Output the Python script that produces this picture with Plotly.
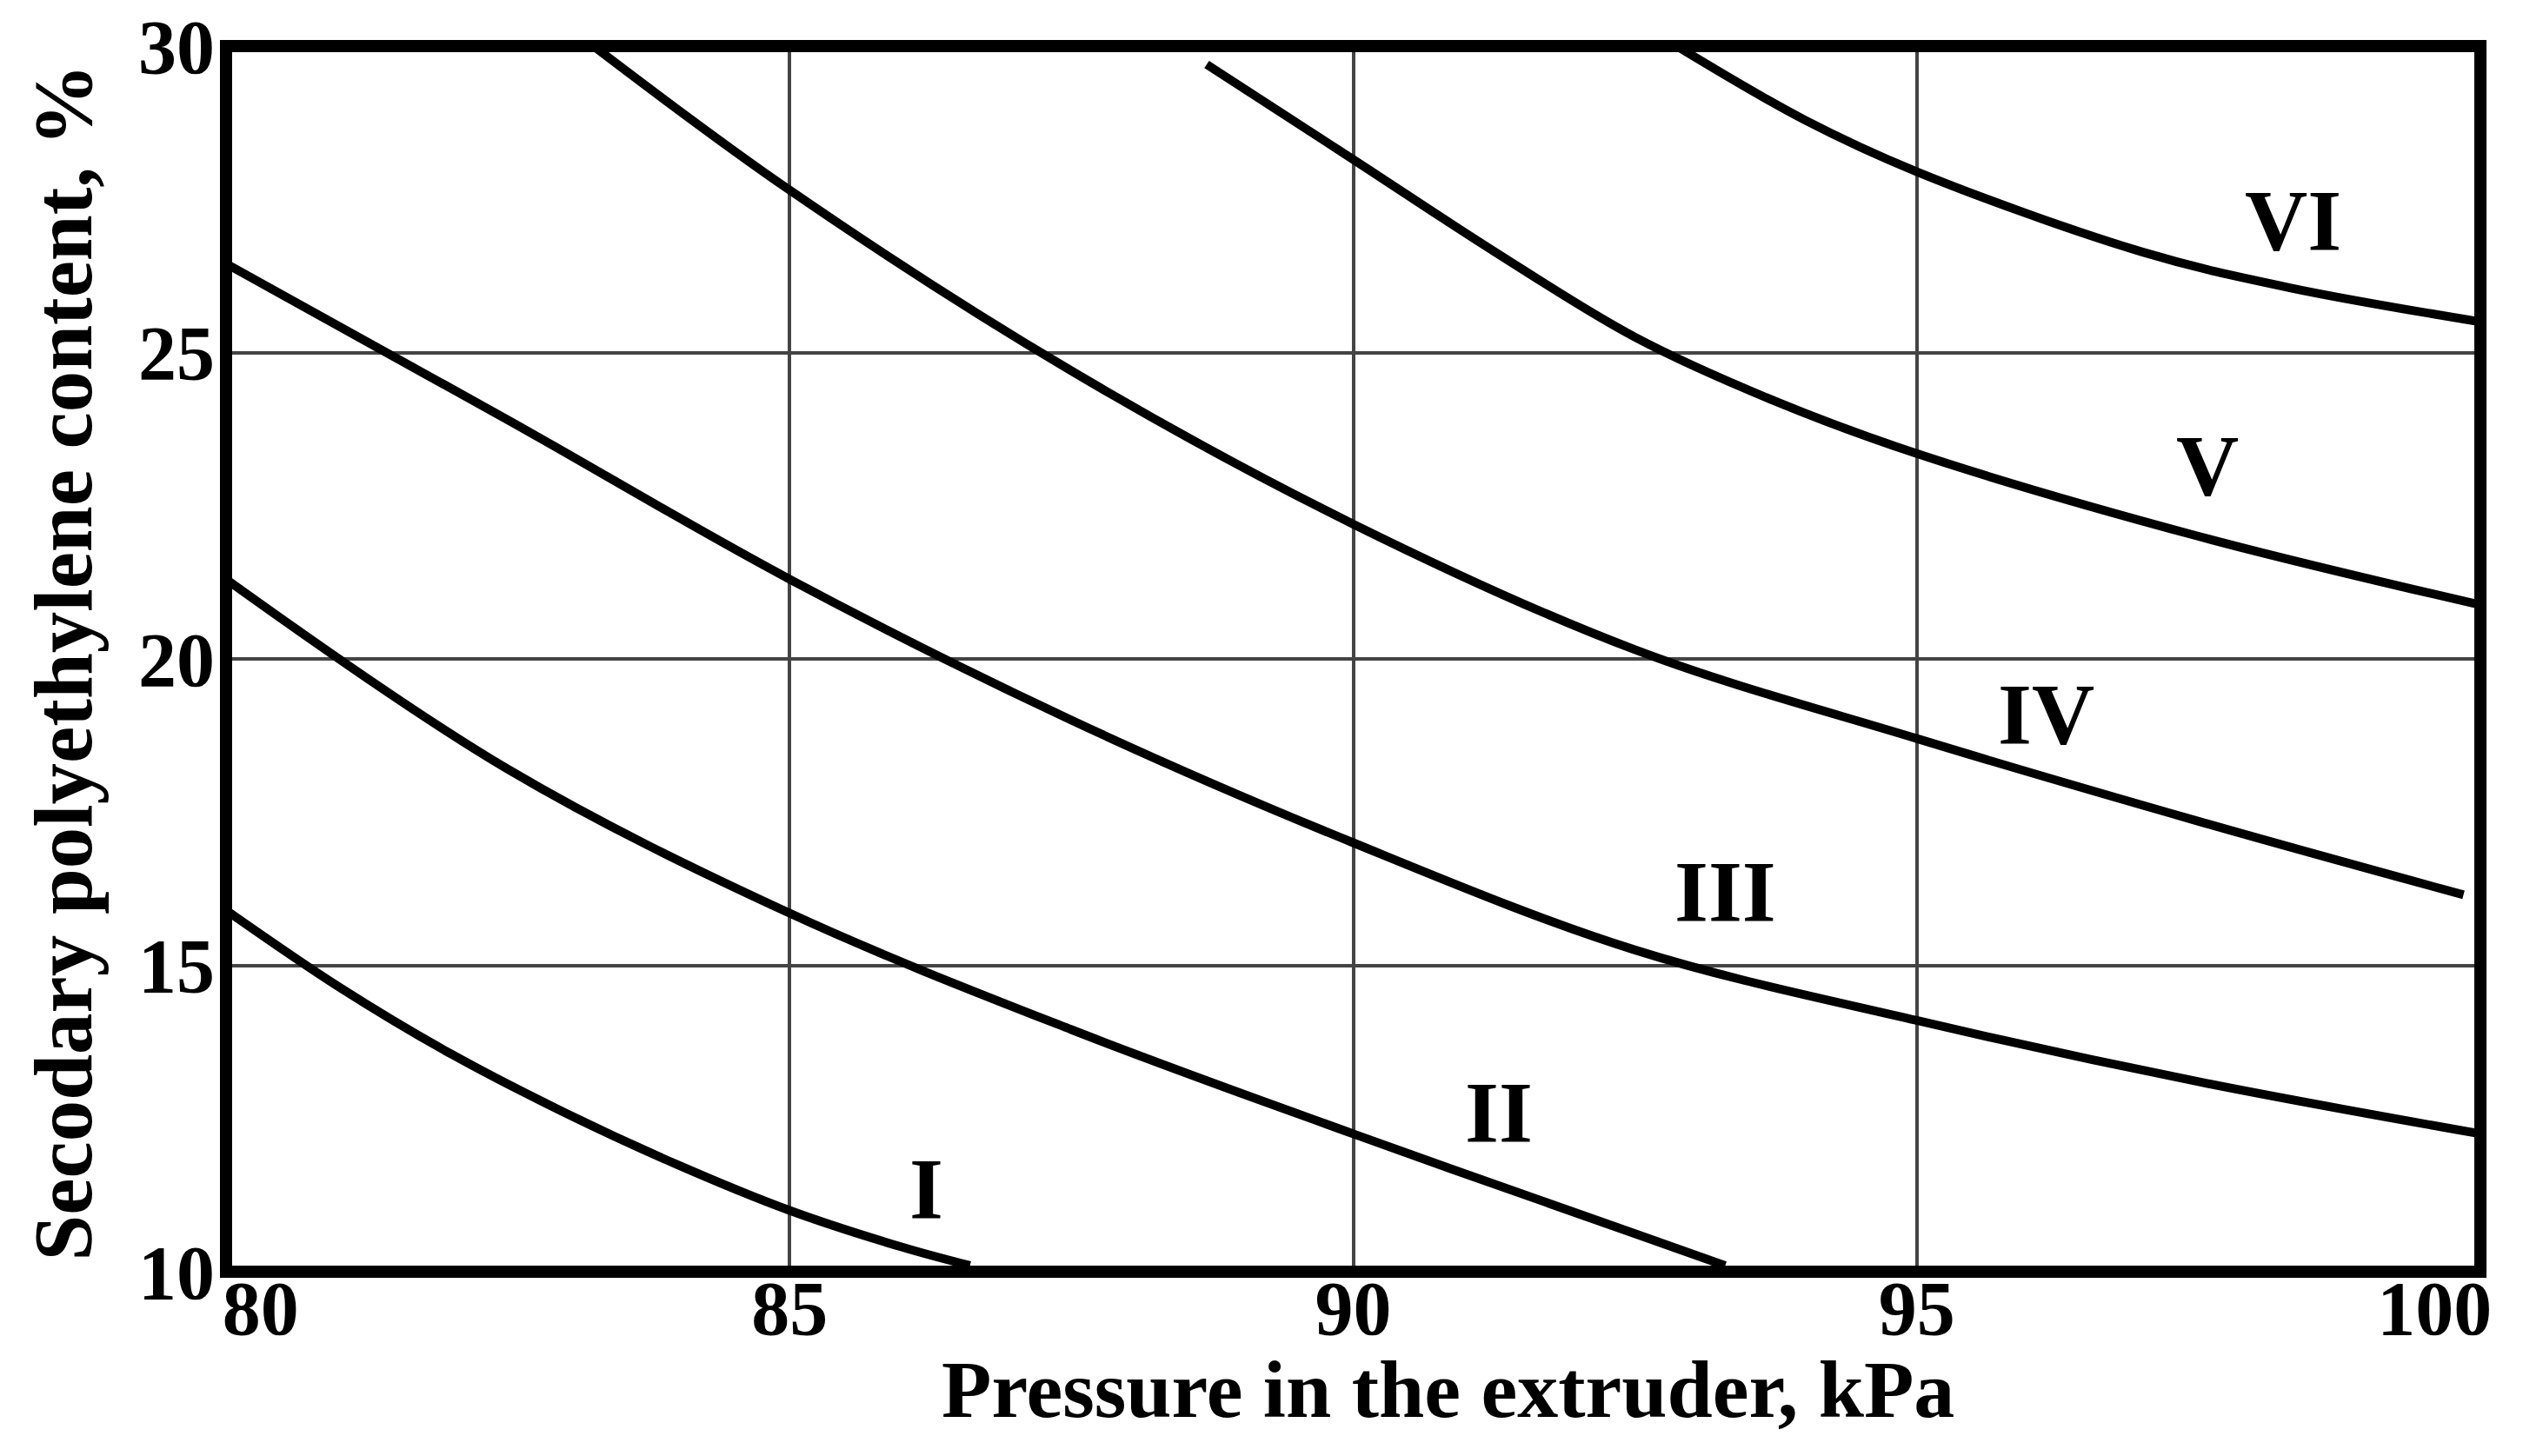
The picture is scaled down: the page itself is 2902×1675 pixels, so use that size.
import plotly.graph_objects as go

# curves: pressure (kPa) vs secondary PE content (%)
x_I = [80, 81, 82, 83, 84, 85, 86, 86.6]
y_I = [15.9, 14.65, 13.55, 12.6, 11.75, 11.0, 10.4, 10.1]

x_II = [80, 82.5, 85, 87.5, 90, 92.5, 93.3]
y_II = [21.3, 18.2, 15.85, 13.95, 12.25, 10.62, 10.1]

x_III = [80, 82.5, 85, 87.5, 90, 92.5, 95, 97.5, 100]
y_III = [26.45, 23.9, 21.3, 19.0, 17.0, 15.25, 14.1, 13.1, 12.25]

x_IV = [83.26, 85, 87.5, 90, 92.5, 95, 97.5, 99.85]
y_IV = [30.0, 27.65, 24.7, 22.2, 20.15, 18.7, 17.35, 16.15]

x_V = [88.7, 90, 91.25, 92.5, 93.75, 95, 97.5, 100]
y_V = [29.7, 28.15, 26.65, 25.25, 24.2, 23.35, 22.0, 20.88]

x_VI = [92.87, 94, 95, 97, 98.3, 100]
y_VI = [30.0, 28.8, 27.95, 26.64, 26.06, 25.5]

curve_names = ["I", "II", "III", "IV", "V", "VI"]
label_x = [86.21, 91.29, 93.3, 96.15, 97.58, 98.34]
label_y = [11.35, 12.6, 16.2, 19.1, 23.15, 27.15]

x_ticks = [80, 85, 90, 95, 100]
x_tick_text = ["\u2002\u2009\u200980", "85", "90", "95", "100\u2002\u2002\u2009"]
y_ticks = [10, 15, 20, 25, 30]

FONT = "Liberation Serif"

curves = [(x_I, y_I), (x_II, y_II), (x_III, y_III),
          (x_IV, y_IV), (x_V, y_V), (x_VI, y_VI)]

fig = go.Figure()
for (xs, ys), name in zip(curves, curve_names):
    fig.add_trace(go.Scatter(
        x=xs, y=ys, name=name, mode="lines",
        line=dict(color="black", width=10, shape="spline", smoothing=1.0),
        showlegend=False, hoverinfo="skip",
    ))

for name, lx, ly in zip(curve_names, label_x, label_y):
    fig.add_annotation(
        x=lx, y=ly, text=name, showarrow=False,
        font=dict(family=FONT, size=100, color="black", weight="bold"),
        xanchor="center", yanchor="middle",
    )

# axis titles
fig.add_annotation(
    xref="paper", yref="paper", x=0.542, y=-0.0955,
    text="Pressure in the extruder, kPa", showarrow=False,
    font=dict(family=FONT, size=94, color="black", weight="bold"),
    xanchor="center", yanchor="middle",
)
fig.add_annotation(
    xref="paper", yref="paper", x=-0.072, y=0.497, textangle=-90,
    text="Secodary polyethylene content, %", showarrow=False,
    font=dict(family=FONT, size=95, color="black", weight="bold"),
    xanchor="center", yanchor="middle",
)

# heavy frame round the plot
fig.add_shape(type="rect", xref="paper", yref="paper", x0=0, y0=0, x1=1, y1=1,
              line=dict(color="black", width=14), layer="above")

fig.update_layout(
    width=2902, height=1675,
    margin=dict(l=252, r=57, t=45, b=220, autoexpand=False),
    plot_bgcolor="white", paper_bgcolor="white",
    font=dict(family=FONT, color="black"),
)
fig.update_xaxes(
    range=[80, 100], tickvals=x_ticks, ticktext=x_tick_text, showgrid=True,
    gridcolor="#444444", gridwidth=4, zeroline=False, showline=False,
    ticks="", ticklabelstandoff=-17, ticklabeloverflow="allow", automargin=False,
    tickfont=dict(family=FONT, size=88, color="black", weight="bold"),
)
fig.update_yaxes(
    range=[10, 30], tickvals=y_ticks, showgrid=True,
    gridcolor="#444444", gridwidth=4, zeroline=False, showline=False,
    ticks="", ticklabelstandoff=12, ticklabeloverflow="allow", automargin=False,
    tickfont=dict(family=FONT, size=88, color="black", weight="bold"),
)

fig.write_html("out.html")
